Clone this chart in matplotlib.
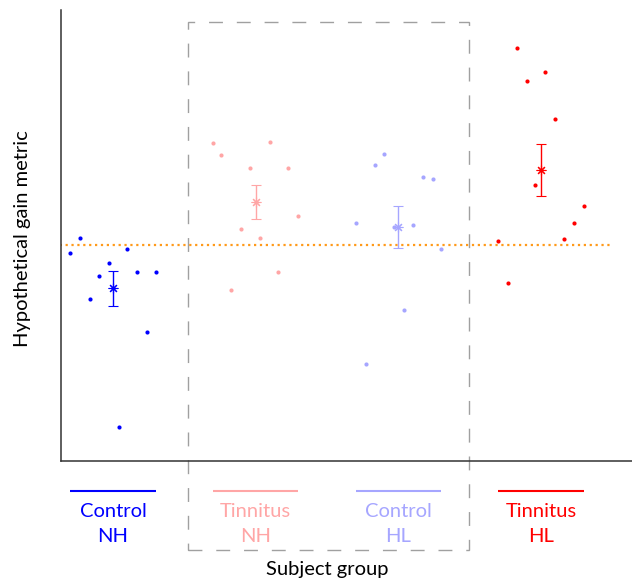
import numpy as np
import matplotlib
matplotlib.use('Agg')
import matplotlib.pyplot as plt
import matplotlib.patches as mpatches

plt.rcParams['font.family'] = ['Lato', 'DejaVu Sans']

# group names and colours
groups = ['Control\nNH', 'Tinnitus\nNH', 'Control\nHL', 'Tinnitus\nHL']
colours = ['#0000FF', '#FFA6A6', '#A6A6FF', '#FF0000']

# per-subject values (arbitrary units)
ctrl_nh = [4.94, 4.62, 4.69, 4.38, 4.11, 4.19, 4.18, 3.59, 2.85, 0.75]
tinn_nh = [7.04, 7.07, 6.78, 6.50, 6.50, 5.44, 5.14, 4.94, 4.20, 3.80]
ctrl_hl = [6.81, 6.56, 6.30, 6.26, 5.27, 5.23, 5.18, 4.70, 3.34, 2.16]
tinn_hl = [9.16, 8.63, 8.43, 7.58, 6.11, 5.65, 5.27, 4.88, 4.92, 3.94]

# horizontal jitter of each subject around its group centre
jit_ctrl_nh = [-0.23, -0.30, 0.10, -0.03, -0.10, 0.17, 0.30, -0.16, 0.24, 0.04]
jit_tinn_nh = [-0.30, 0.10, -0.24, -0.04, 0.23, 0.30, -0.10, 0.03, 0.16, -0.17]
jit_ctrl_hl = [-0.10, -0.16, 0.17, 0.24, -0.30, 0.10, -0.03, 0.30, 0.04, -0.23]
jit_tinn_hl = [-0.17, 0.03, -0.10, 0.10, -0.04, 0.30, 0.23, -0.30, 0.16, -0.23]

reference_level = 4.8

data = [ctrl_nh, tinn_nh, ctrl_hl, tinn_hl]
jitters = [jit_ctrl_nh, jit_tinn_nh, jit_ctrl_hl, jit_tinn_hl]

W, H = 632, 579
fig = plt.figure(figsize=(W / 100, H / 100), dpi=100)
ax = fig.add_axes([61 / W, (579 - 461) / H, (632 - 61) / W, 451 / H])

for i, (vals, jit, col) in enumerate(zip(data, jitters, colours)):
    xc = i + 1
    vals = np.array(vals)
    ax.plot(xc + np.array(jit), vals, 'o', color=col, ms=3.0, mec='none')
    m = vals.mean()
    sem = vals.std(ddof=1) / np.sqrt(len(vals))
    ax.errorbar(xc, m, yerr=sem, color=col, lw=1.0, capsize=3.6, capthick=1.3,
                marker=(8, 2, 0), ms=7, mew=0.8)
    # group label under the axis
    ax.plot([xc - 0.3, xc + 0.3], [-0.665, -0.665], color=col, lw=1.5,
            clip_on=False, solid_capstyle='butt')
    top, bottom = groups[i].split('\n')
    ax.text(xc, -1.109, top, color=col, ha='center', va='center',
            fontsize=14.5, clip_on=False)
    ax.text(xc, -1.663, bottom, color=col, ha='center', va='center',
            fontsize=14.5, clip_on=False)

ax.plot([0.5, 4.5], [reference_level, reference_level], ls=':', lw=1.6,
        color='#FF9A1A')

box = mpatches.Rectangle((1.525, -1.97), 1.97, 11.7, fill=False,
                         edgecolor='#A0A0A0', lw=1.0, ls=(0, (10, 10)),
                         clip_on=False)
ax.add_patch(box)

ax.set_xlim(0.6355, 4.638)
ax.set_ylim(0, 10)
ax.set_xticks([])
ax.set_yticks([])
for s in ['top', 'right']:
    ax.spines[s].set_visible(False)
for s in ['left', 'bottom']:
    ax.spines[s].set_linewidth(1.1)
    ax.spines[s].set_color('#333333')

ax.text(2.5, -2.59, 'Subject group', ha='center', va='bottom', fontsize=14.5,
        clip_on=False)
fig.text(23 / W, 1 - 239 / H, 'Hypothetical gain metric', rotation=90,
         ha='center', va='center', fontsize=14.5)

fig.savefig('out.png', dpi=100)
